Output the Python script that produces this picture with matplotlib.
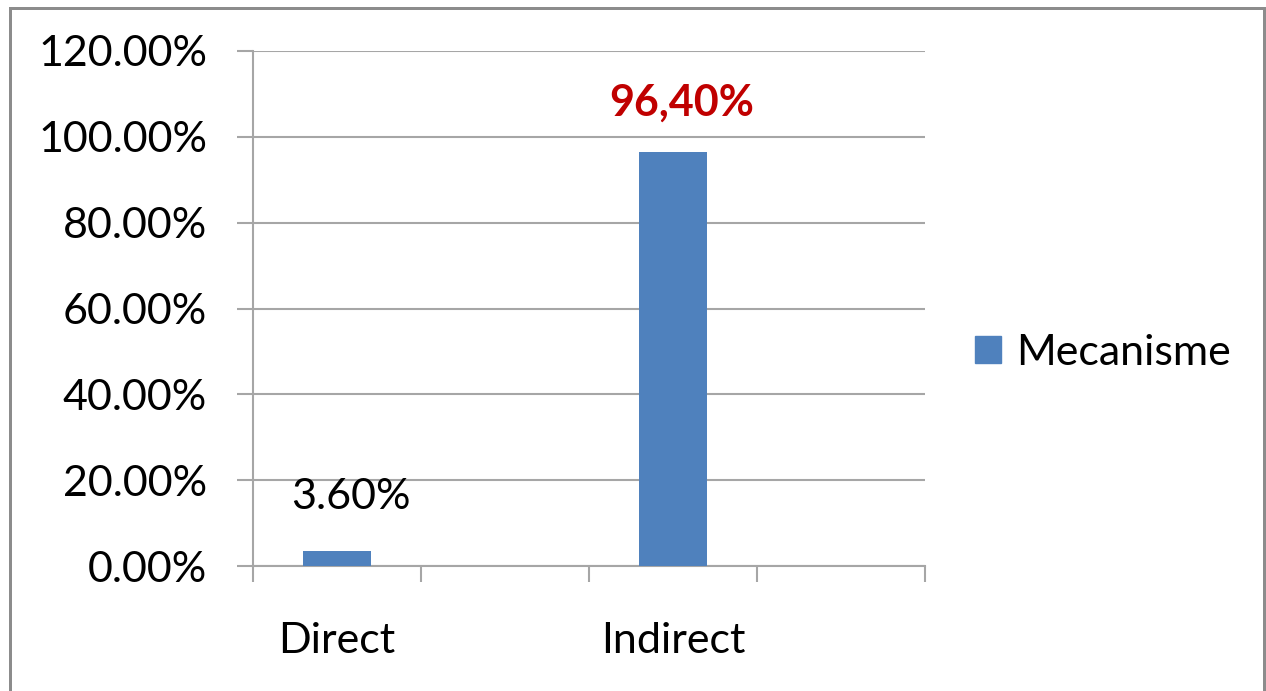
import matplotlib
matplotlib.use("Agg")
import matplotlib.pyplot as plt
import matplotlib.patches as mpatches
from matplotlib.ticker import FuncFormatter, FixedLocator

plt.rcParams['font.family'] = ['Lato', 'DejaVu Sans']

# Data (percent); blank slots keep the empty category gaps
categories = ['Direct', '', 'Indirect', '']
values = [3.6, None, 96.4, None]
value_labels = ['3.60%', None, '96,40%', None]
series_name = 'Mecanisme'
y_ticks = [0, 20, 40, 60, 80, 100, 120]

BAR_COLOR = '#4F81BD'
GRID_COLOR = '#a6a6a6'
PX = 72 / 100  # points per pixel at dpi 100
FS = 31

fig = plt.figure(figsize=(12.66, 6.91), dpi=100)
ax = fig.add_axes([253 / 1266, 1 - 566 / 691, (925 - 253) / 1266, (566 - 51) / 691])

positions = list(range(len(categories)))
bar_pos = [p for p, v in zip(positions, values) if v is not None]
bar_val = [v for v in values if v is not None]
bars = ax.bar(bar_pos, bar_val, width=0.405, color=BAR_COLOR, zorder=3,
              label=series_name)

# value labels above the bars
label_styles = {
    '3.60%': dict(color='black', fontweight='normal', offset=(14, 54)),
    '96,40%': dict(color='#C00000', fontweight='bold', offset=(9, 50)),
}
for p, v, lab in zip(positions, values, value_labels):
    if v is None:
        continue
    st = label_styles[lab]
    ax.annotate(lab, xy=(p, v), xytext=(st['offset'][0] * PX, st['offset'][1] * PX),
                textcoords='offset points', ha='center', va='center',
                fontsize=FS, color=st['color'], fontweight=st['fontweight'])

ax.set_xlim(-0.5, len(categories) - 0.5)
ax.set_ylim(0, 120)

# y axis
ax.set_yticks(y_ticks)
ax.yaxis.set_major_formatter(FuncFormatter(lambda v, _: f'{v:.2f}%'))
ax.tick_params(axis='y', length=16 * PX, width=1.5, color=GRID_COLOR,
               pad=30 * PX, labelsize=FS, labelcolor='black')
ax.yaxis.grid(True, color=GRID_COLOR, linewidth=1.5, zorder=0)

# x axis: tick marks between categories, labels centred on categories
ax.xaxis.set_major_locator(FixedLocator([p - 0.5 for p in positions] + [positions[-1] + 0.5]))
ax.xaxis.set_major_formatter(FuncFormatter(lambda v, _: ''))
ax.xaxis.set_minor_locator(FixedLocator(positions))
ax.set_xticklabels(categories, minor=True)
ax.tick_params(axis='x', which='major', length=16 * PX, width=1.5, color=GRID_COLOR)
ax.tick_params(axis='x', which='minor', length=0, pad=56 * PX, labelsize=FS)

for side in ['top', 'right']:
    ax.spines[side].set_visible(False)
for side in ['left', 'bottom']:
    ax.spines[side].set_color(GRID_COLOR)
    ax.spines[side].set_linewidth(1.5)
ax.set_axisbelow(True)

# legend on the right
fig.legend(handles=[mpatches.Patch(color=BAR_COLOR, label=series_name)],
           loc='center left', bbox_to_anchor=(975 / 1266, 1 - 353 / 691),
           frameon=False, fontsize=FS, handlelength=0.6, handleheight=0.6,
           handletextpad=0.36, borderpad=0, borderaxespad=0)

# chart area border
fig.patches.append(mpatches.Rectangle((10 / 1266, -0.05), 1254 / 1266, 1.05 - 8 / 691,
                                      transform=fig.transFigure, fill=False,
                                      edgecolor='#8c8c8c', linewidth=3 * PX))

fig.savefig('out.png', dpi=100, facecolor='white')
